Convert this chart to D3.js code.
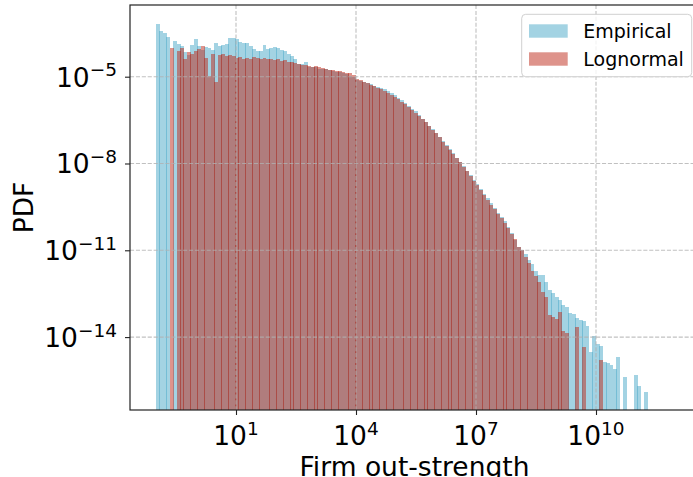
<!DOCTYPE html>
<html>
<meta charset="utf-8">
<script src="https://d3js.org/d3.v7.min.js"></script>
<head>
<style>
body { margin: 0; background: white; }
text { font-family: "DejaVu Sans", sans-serif; fill: #000; }
</style>
</head>
<body>
<div id="chart"></div>
<script>

// histogram bins: log10 of first edge and log10 bin width
var binStartLog = -1.0
var binStepLog = 0.0859
var nBins = 143

// log10(PDF) per bin (null = empty bin)
var empiricalLog = [
  -3.18, -3.42, -3.48, -3.62, null, -3.77, -3.87, -3.94, -4.15, -4.25,
  -3.92, -3.70, -3.95, -4.08, -3.98, -4.00, -4.08, -3.85, -3.95, -3.90,
  -3.88, -3.67, -3.67, -3.68, -3.80, -3.85, -3.85, -3.95, -4.05, -4.10,
  -4.12, -3.92, -4.05, -4.02, -3.98, -4.00, -4.08, -4.10, -4.20, -4.30,
  -4.38, -4.55, -4.55, -4.50, -4.66, -4.66, -4.68, -4.72, -4.74, -4.75,
  -4.78, -4.81, -4.83, -4.85, -4.88, -4.92, -4.96, -5.02, -5.10, -5.14,
  -5.19, -5.22, -5.26, -5.31, -5.35, -5.38, -5.44, -5.50, -5.57, -5.64,
  -5.72, -5.80, -5.90, -6.00, -6.10, -6.20, -6.32, -6.45, -6.58, -6.70,
  -6.82, -6.95, -7.08, -7.22, -7.36, -7.50, -7.65, -7.80, -7.95, -8.10,
  -8.25, -8.40, -8.56, -8.72, -8.88, -9.04, -9.20, -9.38, -9.55, -9.72,
  -9.85, -10.00, -10.18, -10.41, -10.65, -10.88, -10.99, -11.13, -11.34, -11.48,
  -11.72, -11.86, -11.86, -12.09, -12.37, -12.49, -12.63, -12.72, -12.90, -12.97,
  -13.17, -13.20, -13.34, -13.41, -13.43, -13.62, -14.50, -13.97, -14.24, -14.30,
  -14.85, -14.91, -14.97, -15.10, -14.70, null, -15.39, null, null, -15.31,
  -15.69, null, -15.90
]

var lognormalLog = [
  null, null, null, null, -4.02, null, -4.11, -4.02, -4.40, -4.15,
  -4.23, -4.11, -4.05, -3.94, -4.35, -4.98, -4.20, -5.17, -4.25, -4.22,
  -4.30, -4.25, -4.30, -4.35, -4.32, -4.40, -4.35, -4.38, -4.33, -4.35,
  -4.38, -4.36, -4.40, -4.38, -4.42, -4.40, -4.45, -4.43, -4.48, -4.50,
  -4.52, -4.55, -4.60, -4.58, -4.62, -4.65, -4.64, -4.68, -4.70, -4.72,
  -4.76, -4.77, -4.79, -4.80, -4.83, -4.86, -4.88, -4.94, -5.08, -5.12,
  -5.18, -5.23, -5.28, -5.33, -5.38, -5.44, -5.51, -5.57, -5.64, -5.71,
  -5.78, -5.87, -5.96, -6.05, -6.14, -6.24, -6.35, -6.46, -6.58, -6.70,
  -6.83, -6.96, -7.10, -7.24, -7.38, -7.52, -7.66, -7.81, -7.96, -8.11,
  -8.27, -8.43, -8.59, -8.76, -8.93, -9.10, -9.27, -9.42, -9.58, -9.74,
  -9.90, -10.06, -10.22, -10.45, -10.62, -10.88, -10.99, -11.22, -11.45, -11.70,
  -11.90, -12.10, -12.45, -12.60, -13.24, -13.30, -13.38, -13.12, -13.79, -13.87,
  null, null, -13.64, null, -14.33, null, null, null, null, -14.79,
  null, null, null, null, null, null, null, null, null, null,
  null, null, null
]

var xTicks = [1, 4, 7, 10]        // exponents
var yTicks = [-5, -8, -11, -14]   // exponents
var seriesNames = ["Empirical", "Lognormal"]

var width = 693, height = 477
// plot area (window.top is read-only, so not "top")
var pLeft = 130, pRight = 699, pTop = 5, pBottom = 410

var binEdges = d3.range(nBins + 1).map(function(i) { return Math.pow(10, binStartLog + i * binStepLog) })

var x = d3.scaleLog().domain([Math.pow(10, -1.65), Math.pow(10, 12.575)]).range([pLeft, pRight])
var y = d3.scaleLog().domain([Math.pow(10, -16.52), Math.pow(10, -2.522)]).range([pBottom, pTop])

var colors = { blue: "#47a7c7", red: "#bd2717" }

var svg = d3.select("#chart").append("svg")
  .attr("width", width)
  .attr("height", height)

svg.append("clipPath").attr("id", "clip")
  .append("rect").attr("x", pLeft).attr("y", pTop).attr("width", pRight - pLeft).attr("height", pBottom - pTop)

var plot = svg.append("g").attr("clip-path", "url(#clip)")

function drawBars(vals, color) {
  var data = []
  vals.forEach(function(v, i) { if (v !== null) data.push({ i: i, v: Math.pow(10, v) }) })
  plot.append("g").selectAll("rect")
    .data(data)
    .enter()
    .append("rect")
    .attr("shape-rendering", "crispEdges")
    .attr("x", function(d) { return Math.round(x(binEdges[d.i])) })
    .attr("width", function(d) { return Math.round(x(binEdges[d.i + 1]) + 0.5) - Math.round(x(binEdges[d.i])) })
    .attr("y", function(d) { return Math.round(y(d.v)) })
    .attr("height", function(d) { return pBottom - Math.round(y(d.v)) })
    .attr("fill", color)
    .attr("fill-opacity", 0.5)
}

drawBars(empiricalLog, colors.blue)
drawBars(lognormalLog, colors.red)

// grid
var grid = svg.append("g")
  .attr("stroke", "#b0b0b0")
  .attr("stroke-opacity", 0.8)
  .attr("stroke-width", 1.1)
  .attr("stroke-dasharray", "4.1,1.8")
xTicks.forEach(function(e) {
  var px = x(Math.pow(10, e))
  grid.append("line").attr("x1", px).attr("x2", px).attr("y1", pTop).attr("y2", pBottom)
})
yTicks.forEach(function(e) {
  var py = y(Math.pow(10, e))
  grid.append("line").attr("x1", pLeft).attr("x2", pRight).attr("y1", py).attr("y2", py)
})

// axes
svg.append("g")
  .attr("transform", "translate(0," + pBottom + ")")
  .call(d3.axisBottom(x).tickValues(xTicks.map(function(e) { return Math.pow(10, e) })).tickSize(5).tickFormat(""))
  .call(function(g) { g.select(".domain").remove() })
  .selectAll("line").attr("stroke", "#222").attr("stroke-width", 1.1)

svg.append("g")
  .attr("transform", "translate(" + pLeft + ",0)")
  .call(d3.axisLeft(y).tickValues(yTicks.map(function(e) { return Math.pow(10, e) })).tickSize(5).tickFormat(""))
  .call(function(g) { g.select(".domain").remove() })
  .selectAll("line").attr("stroke", "#222").attr("stroke-width", 1.1)

function powLabel(sel, e) {
  sel.append("tspan").text("10")
  sel.append("tspan").attr("dy", -10.5).attr("font-size", 18.5).text(String(e).replace("-", "\u2212"))
}

xTicks.forEach(function(e) {
  var t = svg.append("text")
    .attr("x", x(Math.pow(10, e)))
    .attr("y", 445)
    .attr("text-anchor", "middle")
    .attr("font-size", 26.5)
  powLabel(t, e)
})

yTicks.forEach(function(e) {
  var t = svg.append("text")
    .attr("x", 117)
    .attr("y", y(Math.pow(10, e)) + 10)
    .attr("text-anchor", "end")
    .attr("font-size", 26.5)
  powLabel(t, e)
})

// spines
var spine = svg.append("g").attr("stroke", "#222").attr("stroke-width", 1.2).attr("fill", "none")
spine.append("rect").attr("x", pLeft).attr("y", pTop).attr("width", pRight - pLeft).attr("height", pBottom - pTop)

// axis titles
svg.append("text")
  .attr("x", (pLeft + pRight) / 2)
  .attr("y", 476)
  .attr("text-anchor", "middle")
  .attr("font-size", 26.5)
  .text("Firm out-strength")

svg.append("text")
  .attr("transform", "translate(33," + (pTop + pBottom) / 2 + ") rotate(-90)")
  .attr("text-anchor", "middle")
  .attr("font-size", 26.5)
  .text("PDF")

// legend
var legend = svg.append("g")
legend.append("rect")
  .attr("x", 521.7).attr("y", 14.3).attr("width", 170).attr("height", 62.4)
  .attr("rx", 4)
  .attr("fill", "white").attr("fill-opacity", 0.8)
  .attr("stroke", "#d0d0d0")
seriesNames.forEach(function(name, i) {
  legend.append("rect")
    .attr("x", 529).attr("y", 24.3 + i * 28).attr("width", 38.7).attr("height", 13.4)
    .attr("fill", i === 0 ? colors.blue : colors.red)
    .attr("fill-opacity", 0.5)
  legend.append("text")
    .attr("x", 583.3).attr("y", 37.7 + i * 28)
    .attr("font-size", 19)
    .text(name)
})

</script>
</body>
</html>
